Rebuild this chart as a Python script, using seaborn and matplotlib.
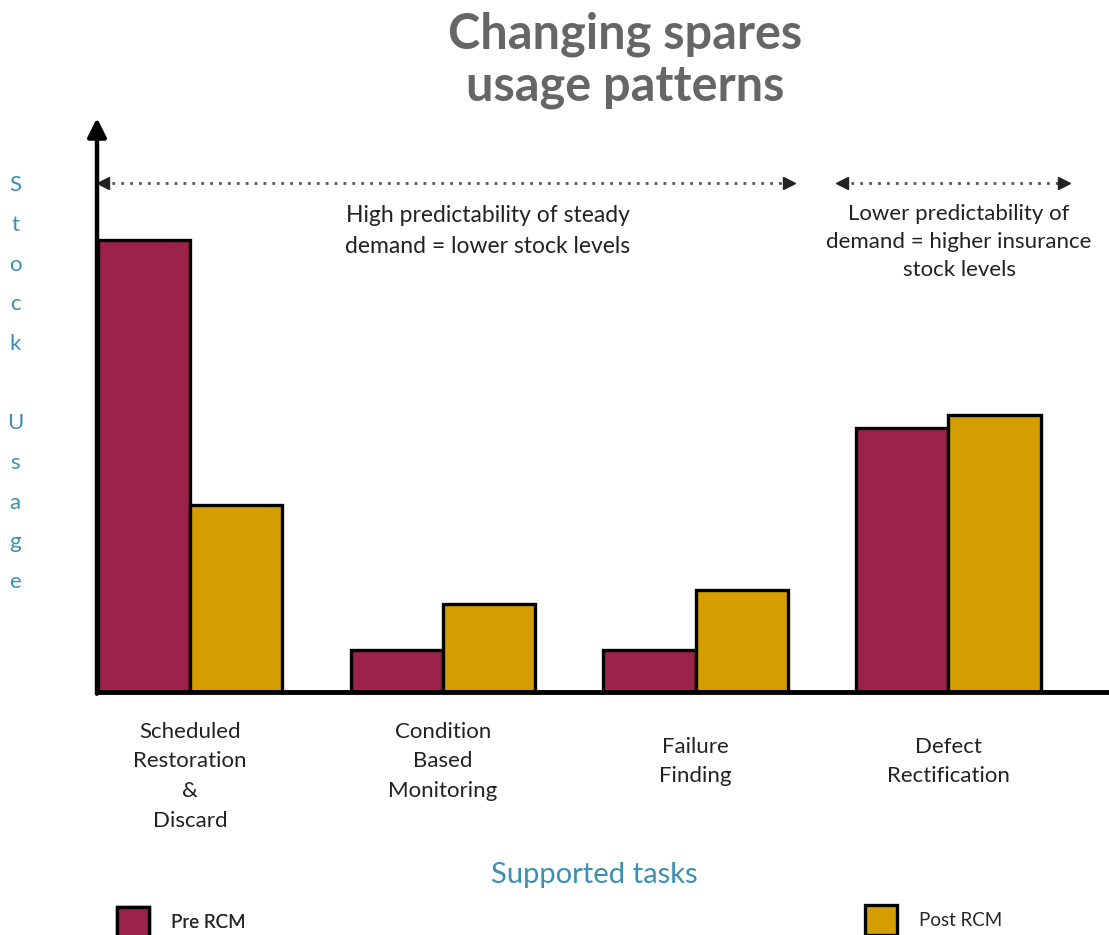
import pandas as pd
import seaborn as sns
import matplotlib.pyplot as plt

#----------------------------------------
tasks = ['\nScheduled\nRestoration\n&\nDiscard', 'Condition\nBased\nMonitoring',
         'Failure\nFinding', 'Defect\nRectification']
periods = ['Pre RCM', 'Post RCM']
pre_rcm = [45.2, 4.2, 4.2, 26.4]
post_rcm = [18.7, 8.8, 10.2, 27.7]
colors = ['#9b224b', '#d49e00']
#----------------------------------------

df = pd.DataFrame({
    'task': tasks * 2,
    'period': [periods[0]] * 4 + [periods[1]] * 4,
    'usage': pre_rcm + post_rcm,
})

sns.set_style('white')
plt.rcParams['font.family'] = ['Lato', 'DejaVu Sans']

fig = plt.figure(figsize=(11.09, 9.35), dpi=100)
ax = fig.add_axes([97 / 1109, 243 / 935, 1012 / 1109, 574 / 935])

sns.barplot(data=df, x='task', y='usage', hue='period', palette=colors,
            saturation=1, width=0.73, edgecolor='black', linewidth=2.4,
            errorbar=None, ax=ax, legend=True)

ax.set_xlim(-0.368, 3.636)
ax.set_ylim(0, 57.4)
ax.set_yticks([])
ax.tick_params(axis='x', length=0, pad=0)
for lab in ax.get_xticklabels():
    lab.set_fontsize(16)
    lab.set_color('#222222')
    lab.set_va('center')
    lab.set_linespacing(1.6)
ax.xaxis.set_tick_params(pad=50)

for s in ['top', 'right', 'left']:
    ax.spines[s].set_visible(False)
ax.spines['bottom'].set_linewidth(3.5)
ax.spines['bottom'].set_color('black')

# y axis with arrow head
ax.annotate('', xy=(0, 1.0), xytext=(0, -0.003), xycoords='axes fraction',
            arrowprops=dict(arrowstyle='-|>', lw=3.2, color='black',
                            mutation_scale=28, shrinkA=0, shrinkB=0),
            annotation_clip=False)

# axis labels
ax.set_ylabel('S\nt\no\nc\nk\n\nU\ns\na\ng\ne', rotation=0, fontsize=16,
              color='#3a8fb3', linespacing=2.23, va='center', ha='center')
ax.yaxis.set_label_coords(-0.081, 0.537)
ax.set_xlabel('Supported tasks', fontsize=21, color='#3a8fb3')
ax.xaxis.set_label_coords(0.491, -0.296)

# dotted range arrows
arrow_y = 50.9
for x0, x1 in [(-0.344, 2.371), (2.581, 3.458)]:
    ax.plot([x0, x1], [arrow_y, arrow_y], ls=(0, (1, 2.2)), lw=2, color='#555555',
            clip_on=False)
    ax.plot([x0], [arrow_y], marker='<', ms=8, color='#222222', clip_on=False)
    ax.plot([x1], [arrow_y], marker='>', ms=8, color='#222222', clip_on=False)

ax.text(1.177, 46.1, 'High predictability of steady\ndemand = lower stock levels',
        ha='center', va='center', fontsize=16.5, color='#222222', linespacing=1.6)
ax.text(3.043, 45.0, 'Lower predictability of\ndemand = higher insurance\nstock levels',
        ha='center', va='center', fontsize=16, color='#222222', linespacing=1.5)

# title
fig.text(625 / 1109, 1 - 60 / 935, 'Changing spares\nusage patterns', ha='center',
         va='center', fontsize=35, fontweight='bold', color='#666666',
         linespacing=1.17)

# split legend
handles, labels = ax.get_legend_handles_labels()
ax.get_legend().remove()
leg1 = fig.legend([handles[0]], [labels[0]], loc='center left',
                  bbox_to_anchor=(100 / 1109, 1 - 922 / 935), frameon=False,
                  fontsize=13.5, handlelength=1.7, handleheight=2.1, handletextpad=1.2)
leg2 = fig.legend([handles[1]], [labels[1]], loc='center left',
                  bbox_to_anchor=(848 / 1109, 1 - 920 / 935), frameon=False,
                  fontsize=13.5, handlelength=1.7, handleheight=2.1, handletextpad=1.2)
fig.add_artist(leg1)

fig.savefig('out.png', dpi=100)
